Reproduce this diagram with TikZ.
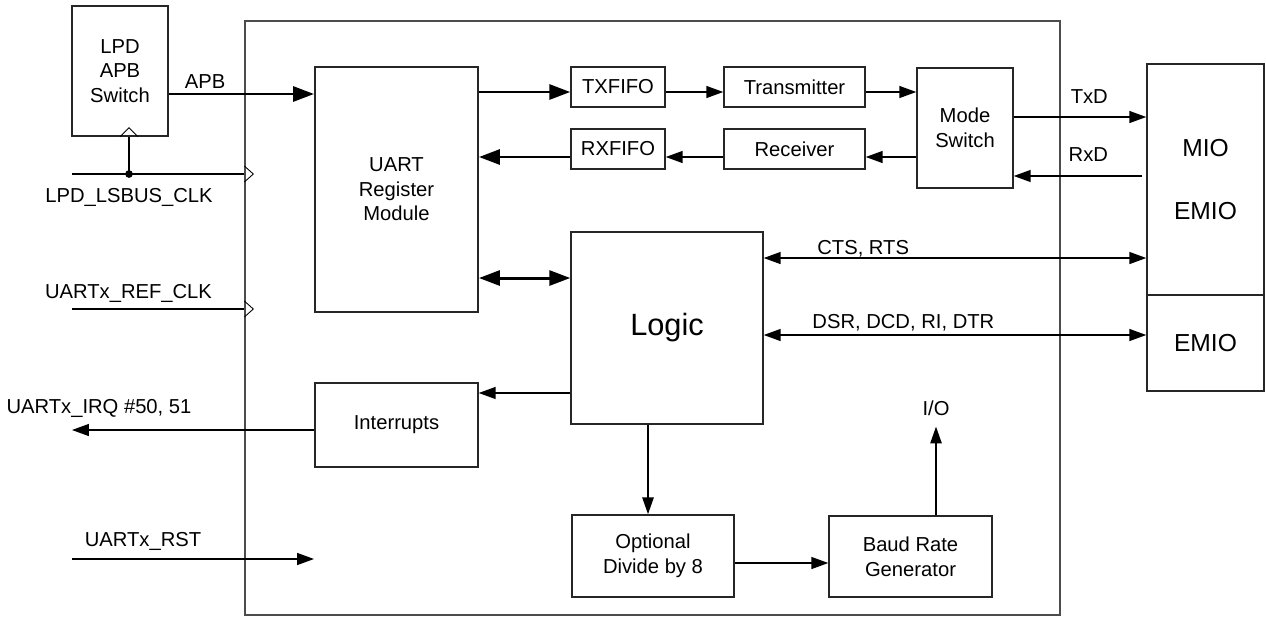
\documentclass[tikz,border=0pt]{standalone}
\usepackage{fontspec}
\setmainfont{Liberation Sans}
\usetikzlibrary{arrows.meta, calc}

\begin{document}
\begin{tikzpicture}[
    x=0.02cm, y=-0.02cm,
    font=\fontsize{11.5}{14}\selectfont,
    block/.style={
        rectangle,
        draw=black!85,
        line width=0.85pt,
        inner sep=0pt,
        align=center
    },
    ipframe/.style={rectangle, draw=black!70, line width=0.85pt, inner sep=0pt},
    sig/.style={>={Triangle[length=9.6pt, width=6.8pt]}, line width=0.75pt},
    mid/.style={>={Triangle[length=9.6pt, width=6.4pt]}, line width=1.1pt},
    bus/.style={>={Triangle[length=11.9pt, width=8.5pt]}, line width=1.7pt},
    wire/.style={line width=0.75pt},
    clk/.style={line width=0.5pt},
    lbl/.style={anchor=base, inner sep=0pt}
]
\useasboundingbox (0,0) rectangle (1266,616);

% Blocks
\node[ipframe, minimum width=16.3cm, minimum height=11.88cm] (ip) at (652.5,318) {};
\node[block, minimum width=1.92cm, minimum height=2.6cm] (sw) at (120,71) {LPD\\APB\\Switch};
\node[block, line width=1.1pt, minimum width=3.26cm, minimum height=4.9cm] (reg) at (396.5,189.5) {UART\\Register\\Module};
\node[block, minimum width=1.88cm, minimum height=0.8cm] (txf) at (618,87) {TXFIFO};
\node[block, minimum width=1.88cm, minimum height=0.8cm] (rxf) at (618,149) {RXFIFO};
\node[block, minimum width=2.82cm, minimum height=0.8cm] (tx) at (794.5,87) {Transmitter};
\node[block, minimum width=2.82cm, minimum height=0.8cm] (rx) at (794.5,149) {Receiver};
\node[block, minimum width=1.92cm, minimum height=2.4cm] (mode) at (965,128) {Mode\\Switch};
\node[block, minimum width=3.84cm, minimum height=3.84cm, font=\fontsize{17.5}{20}\selectfont] (logic) at (667,328) {Logic};
\node[block, minimum width=3.26cm, minimum height=1.68cm] (intr) at (396.5,425) {Interrupts};
\node[block, minimum width=3.24cm, minimum height=1.64cm] (opt) at (653,556) {Optional\\Divide by 8};
\node[block, minimum width=3.26cm, minimum height=1.62cm] (baud) at (910.5,556.5) {Baud Rate\\Generator};
\node[block, minimum width=2.34cm, minimum height=4.62cm, font=\fontsize{14}{17}\selectfont] (mio) at (1205.5,179.5) {MIO\\[19pt]EMIO};
\node[block, minimum width=2.34cm, minimum height=1.92cm, font=\fontsize{14}{17}\selectfont] (emio) at (1205.5,343) {EMIO};
\node[inner sep=0pt, anchor=base] (io) at (936,415) {I/O};

% External signals
\coordinate (lsclk) at (72,174);
\coordinate (ckdot) at (129,174);
\coordinate (refclk) at (72,309);
\coordinate (irq) at (72,430);
\coordinate (rst) at (72,559);
\coordinate (rstin) at (314,559);

\node (lsclkl) at (129,197) {LPD\_LSBUS\_CLK};
\node (refclkl) at (128.5,293) {UARTx\_REF\_CLK};
\node (irql) at (99,408) {UARTx\_IRQ \#50, 51};
\node (rstl) at (143,541) {UARTx\_RST};

\draw[bus, ->] ([yshift=-0.46cm]sw.east) -- node[lbl, pos=0.25, yshift=0.12cm] {APB} ([yshift=-0.46cm]sw.east -| reg.west);

\draw[wire] (lsclk) -- (lsclk -| ip.west);
\draw[wire] (ckdot) -- (ckdot |- sw.south);
\fill (ckdot) circle (2.2pt);
\draw[clk] ([yshift=0.16cm]ip.west |- lsclk) -- ++(9,8) -- ++(-9,8);
\draw[clk] ([xshift=-0.18cm]ckdot |- sw.south) -- ++(9,-9) -- ++(9,9);

\draw[wire] (refclk) -- (refclk -| ip.west);
\draw[clk] ([yshift=0.16cm]ip.west |- refclk) -- ++(9,8) -- ++(-9,8);

\draw[sig, ->] (irq -| intr.west) -- (irq);
\draw[sig, ->] (rst) -- (rstin);

% Data path
\draw[bus, ->] ([yshift=-0.1cm]txf.west -| reg.east) -- ([yshift=-0.1cm]txf.west);
\draw[sig, ->] ([yshift=-0.1cm]txf.east) -- ([yshift=-0.1cm]tx.west);
\draw[sig, ->] ([yshift=-0.1cm]tx.east) -- ([yshift=-0.1cm]tx.east -| mode.west);
\draw[sig, ->] ([yshift=-0.16cm]rx.east -| mode.west) -- ([yshift=-0.16cm]rx.east);
\draw[sig, ->] ([yshift=-0.16cm]rx.west) -- ([yshift=-0.16cm]rxf.east);
\draw[bus, ->] ([yshift=-0.16cm]rxf.west) -- ([yshift=-0.16cm]rxf.west -| reg.east);

\draw[sig, ->] ([yshift=0.22cm]mode.east) -- node[lbl, pos=0.57, yshift=0.28cm] {TxD} ([yshift=0.22cm]mode.east -| mio.west);
\draw[sig, ->] ([yshift=-0.96cm, xshift=-0.08cm]mode.east -| mio.west) -- node[lbl, pos=0.42, yshift=0.28cm] {RxD} ([yshift=-0.96cm]mode.east);

% Control path
\draw[bus, <->] ([yshift=1cm]logic.west -| reg.east) -- ([yshift=1cm]logic.west);
\draw[sig, <->] ([yshift=1.4cm]logic.east) -- node[lbl, pos=0.26, yshift=0.08cm] {CTS, RTS} ([yshift=1.4cm]logic.east -| mio.west);
\draw[sig, <->] ([yshift=-0.14cm]logic.east) -- node[lbl, pos=0.365, yshift=0.14cm] {DSR, DCD, RI, DTR} ([yshift=-0.14cm]logic.east -| emio.west);
\draw[sig, ->] ([yshift=-1.3cm]logic.west) -- ([yshift=-1.3cm]logic.west -| intr.east);
\draw[mid, ->] ([xshift=-0.38cm]logic.south) -- ([xshift=-0.38cm]logic.south |- opt.north);
\draw[sig, ->] ([yshift=-0.14cm]opt.east) -- ([yshift=-0.14cm]opt.east -| baud.west);
\draw[mid, ->] ([xshift=0.51cm]baud.north) -- ([yshift=-0.22cm]io.south);

\end{tikzpicture}
\end{document}
